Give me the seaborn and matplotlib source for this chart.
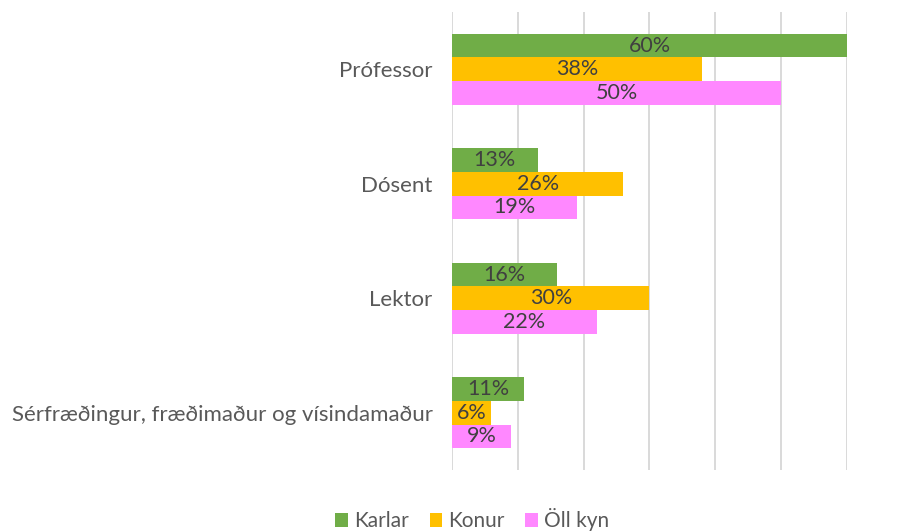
import pandas as pd
import matplotlib.pyplot as plt
import seaborn as sns

# Data (share in %)
categories = ["Prófessor", "Dósent", "Lektor", "Sérfræðingur, fræðimaður og vísindamaður"]
series = ["Karlar", "Konur", "Öll kyn"]
karlar = [60, 13, 16, 11]
konur = [38, 26, 30, 6]
oll_kyn = [50, 19, 22, 9]
colors = ["#70AD47", "#FFC000", "#FF88FF"]

rows = []
for name, vals in zip(series, [karlar, konur, oll_kyn]):
    for cat, v in zip(categories, vals):
        rows.append({"Flokkur": cat, "Hópur": name, "Hlutfall": v / 100})
df = pd.DataFrame(rows)

sns.set_style("white")
plt.rcParams['font.family'] = ['Lato', 'DejaVu Sans']

fig = plt.figure(figsize=(9.03, 5.31), dpi=100)
ax = fig.add_axes([452 / 903, 1 - 470 / 531, (847 - 452) / 903, (470 - 12) / 531])

sns.barplot(data=df, y="Flokkur", x="Hlutfall", hue="Hópur", orient="h",
            palette=colors, width=0.62, saturation=1, ax=ax, legend=True,
            edgecolor="none")

# value labels in the middle of each bar
for cont, vals in zip(ax.containers, [karlar, konur, oll_kyn]):
    ax.bar_label(cont, labels=[f"{v}%" for v in vals], label_type="center",
                 color="#404040", fontsize=15.5)

ax.set_xlim(0, 0.6)
ax.set_xticks([i / 10 for i in range(7)])
ax.set_xticklabels([])
ax.grid(axis="x", color="#D9D9D9", linewidth=1.4)
ax.set_axisbelow(True)
ax.tick_params(axis="both", length=0)
ax.tick_params(axis="y", labelsize=16, labelcolor="#595959", pad=14)
ax.set_xlabel("")
ax.set_ylabel("")
for s in ax.spines.values():
    s.set_visible(False)

handles, labels = ax.get_legend_handles_labels()
ax.get_legend().remove()
fig.legend(handles, labels, loc="lower center", bbox_to_anchor=(0.523, -0.036),
           ncol=3, frameon=False, fontsize=15, labelcolor="#595959",
           handlelength=0.6, handleheight=0.6, handletextpad=0.3, columnspacing=1.0)

fig.savefig("out.png", dpi=100)
